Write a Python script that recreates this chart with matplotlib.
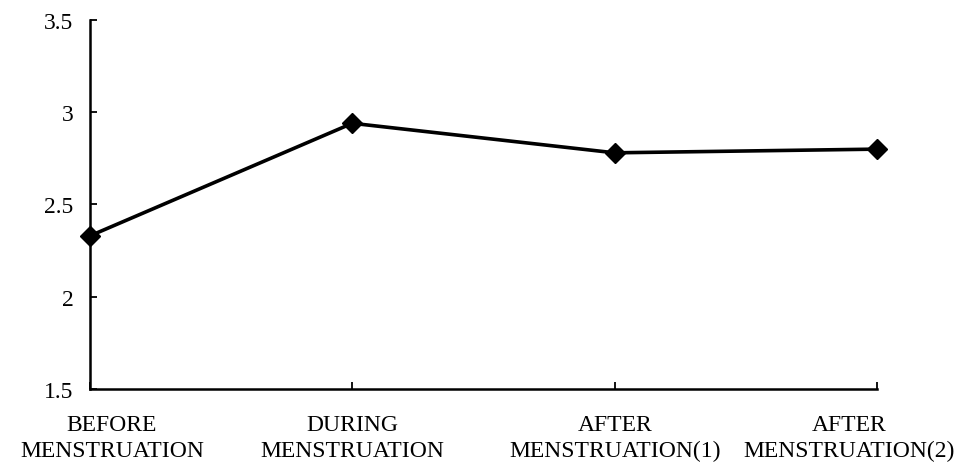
import numpy as np
import matplotlib.pyplot as plt
from matplotlib.transforms import ScaledTranslation

plt.rcParams["font.family"] = ["Liberation Serif", "DejaVu Serif"]

# Values
phases = [
    "BEFORE\nMENSTRUATION",
    "DURING\nMENSTRUATION",
    "AFTER\nMENSTRUATION(1)",
    "AFTER\nMENSTRUATION(2)",
]
scores = [2.33, 2.94, 2.78, 2.80]
y_ticks = [1.5, 2, 2.5, 3, 3.5]
y_tick_labels = ["1.5", "2", "2.5", "3", "3.5"]

fig = plt.figure(figsize=(9.74, 4.64), dpi=100)
ax = fig.add_axes([0.0924, 0.1595, 0.8080, 0.7953])

x = np.arange(len(phases))
ax.plot(x, scores, "-", color="black", linewidth=2.6,
        marker="D", markersize=10.5, clip_on=False, zorder=3)

ax.set_xlim(0, len(phases) - 1)
ax.set_ylim(1.5, 3.5)
ax.set_xticks(x)
ax.set_xticklabels(phases, fontsize=17, linespacing=1.32)
ax.set_yticks(y_ticks)
ax.set_yticklabels(y_tick_labels, fontsize=17)

for side in ("top", "right"):
    ax.spines[side].set_visible(False)
for side in ("left", "bottom"):
    ax.spines[side].set_linewidth(1.8)

ax.tick_params(axis="both", direction="in", length=5, width=1.3, color="black")
ax.tick_params(axis="x", pad=18)
ax.tick_params(axis="y", pad=12)

# outer labels sit a little inward so they stay on the canvas
labels = ax.get_xticklabels()
labels[0].set_transform(labels[0].get_transform()
                        + ScaledTranslation(22 / 100, 0, fig.dpi_scale_trans))
labels[-1].set_transform(labels[-1].get_transform()
                         + ScaledTranslation(-28 / 100, 0, fig.dpi_scale_trans))

fig.savefig("out.png", dpi=100)
